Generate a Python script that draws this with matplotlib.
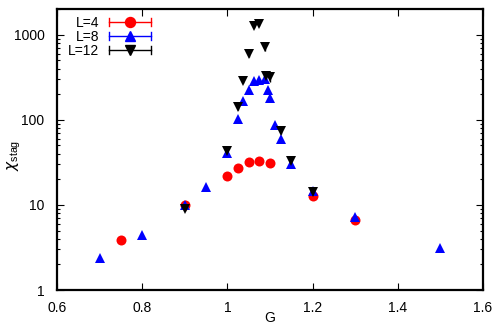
import matplotlib
matplotlib.use("Agg")
import matplotlib.pyplot as plt
from matplotlib.legend_handler import HandlerBase
from matplotlib.lines import Line2D
from matplotlib.ticker import LogLocator, NullFormatter, FixedLocator

plt.rcParams['font.family'] = ['Liberation Sans', 'DejaVu Sans']
plt.rcParams['mathtext.fontset'] = 'dejavusans'

# L = 4
g4 = [0.75, 0.9, 1.0, 1.025, 1.05, 1.075, 1.1, 1.2, 1.3]
chi4 = [3.9, 9.9, 22.1, 27.0, 32.0, 32.9, 31.2, 12.6, 6.6]
err4 = [0.1, 0.2, 0.4, 0.5, 0.6, 0.6, 0.6, 0.3, 0.15]

# L = 8
g8 = [0.7, 0.8, 0.9, 0.95, 1.0, 1.025, 1.0375, 1.05, 1.0625, 1.075,
      1.0875, 1.095, 1.1, 1.1125, 1.125, 1.15, 1.2, 1.3, 1.5]
chi8 = [2.4, 4.4, 10.0, 16.4, 41.0, 101.0, 165.0, 226.0, 282.0, 295.0,
        303.0, 226.0, 180.0, 86.5, 59.0, 30.0, 14.7, 7.2, 3.15]
err8 = [0.05, 0.1, 0.2, 0.4, 1.0, 3.0, 5.0, 7.0, 9.0, 10.0,
        10.0, 8.0, 6.0, 3.0, 2.0, 1.0, 0.4, 0.2, 0.08]

# L = 12
g12 = [0.9, 1.0, 1.025, 1.0375, 1.05, 1.0625, 1.075, 1.0875, 1.09, 1.1,
       1.125, 1.15, 1.2]
chi12 = [9.0, 43.0, 140.0, 282.0, 588.0, 1259.0, 1330.0, 709.0, 330.0, 315.0,
         73.6, 33.0, 14.0]
err12 = [0.6, 3.0, 8.0, 15.0, 35.0, 60.0, 70.0, 70.0, 45.0, 40.0,
         6.0, 2.5, 0.8]

labels = ['L=4', 'L=8', 'L=12']
colors = ['#ff0000', '#0000ff', '#000000']
markers = ['o', '^', 'v']
sizes = [7.2, 7, 7]


class ErrorbarKey(HandlerBase):
    """Horizontal key line with end caps and the marker in the middle."""

    def create_artists(self, legend, orig_handle, xdescent, ydescent,
                       width, height, fontsize, trans):
        c = orig_handle.get_color()
        y = height / 2 - ydescent
        x0, x1 = -xdescent, width - xdescent
        cap = 0.3 * fontsize
        line = Line2D([x0, x1], [y, y], color=c, lw=1.0, transform=trans)
        capl = Line2D([x0, x0], [y - cap, y + cap], color=c, lw=1.0, transform=trans)
        capr = Line2D([x1, x1], [y - cap, y + cap], color=c, lw=1.0, transform=trans)
        mk = Line2D([(x0 + x1) / 2], [y], marker=orig_handle.get_marker(),
                    markersize=orig_handle.get_markersize(), color=c,
                    linestyle='none', transform=trans)
        return [line, capl, capr, mk]


fig = plt.figure(figsize=(5.0, 3.29), dpi=100)
ax = fig.add_axes([0.114, 0.1185, 0.852, 0.854])

handles = []
for g, chi, err, lab, c, m, s in zip([g4, g8, g12], [chi4, chi8, chi12],
                                     [err4, err8, err12], labels, colors,
                                     markers, sizes):
    ax.errorbar(g, chi, yerr=err, fmt=m, color=c, ms=s, mew=0,
                ecolor=c, elinewidth=1.0, capsize=2.5, capthick=1.0)
    handles.append(Line2D([], [], color=c, marker=m, markersize=s,
                          linestyle='-', label=lab))

ax.set_yscale('log')
ax.set_xlim(0.6, 1.6)
ax.set_ylim(1, 2000)
ax.xaxis.set_major_locator(FixedLocator([0.6, 0.8, 1.0, 1.2, 1.4, 1.6]))
ax.set_xticklabels(['0.6', '0.8', '1', '1.2', '1.4', '1.6'])
ax.yaxis.set_major_locator(FixedLocator([1, 10, 100, 1000]))
ax.set_yticklabels(['1', '10', '100', '1000'])
ax.yaxis.set_minor_locator(LogLocator(base=10, subs=range(2, 10)))
ax.yaxis.set_minor_formatter(NullFormatter())

ax.tick_params(which='both', direction='in', top=True, right=True,
               labelsize=10, width=0.8)
ax.tick_params(which='major', length=5)
ax.tick_params(axis='x', which='major', pad=8)
ax.tick_params(axis='y', which='major', pad=9)
ax.tick_params(which='minor', length=2.5)
for sp in ax.spines.values():
    sp.set_linewidth(1.6)

ax.set_xlabel('G', fontsize=10)
ax.xaxis.set_label_coords(0.5, -0.075)
ax.set_ylabel(r'$\chi_{\mathregular{stag}}$', fontsize=11)
ax.yaxis.set_label_coords(-0.08, 0.48)

ax.legend(handles=handles, loc='upper left', frameon=False, markerfirst=False,
          handler_map={Line2D: ErrorbarKey()}, fontsize=10,
          handlelength=3.0, handleheight=0.5, handletextpad=0.7,
          labelspacing=0.0, borderaxespad=0.0, borderpad=0.2,
          bbox_to_anchor=(0.02, 0.986))

fig.savefig('out.png', dpi=100)
